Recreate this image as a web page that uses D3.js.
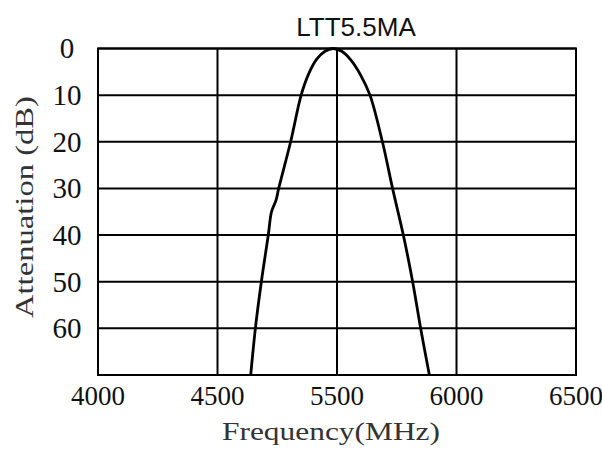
<!DOCTYPE html>
<html>
<head>
<meta charset="utf-8">
<script src="https://cdn.jsdelivr.net/npm/d3@7"></script>
<style>
  html, body { margin: 0; padding: 0; background: #fff; }
  svg { display: block; }
</style>
</head>
<body>
<div id="chart"></div>
<script>
// ---- data ----
const title = "LTT5.5MA";
const xTickLabels = ["4000", "4500", "5500", "6000", "6500"];   // equally spaced grid columns
const yTicks = [0, 10, 20, 30, 40, 50, 60];
const yMax = 70;
const xTitle = "Frequency(MHz)";
const yTitle = "Attenuation (dB)";
// curve: x position in grid-column units (0 = "4000", 4 = "6500"), attenuation in dB
const curveX  = [1.278, 1.317, 1.367, 1.425, 1.452, 1.49, 1.512, 1.612, 1.70, 1.762, 1.83, 1.90, 1.966,
                 2.04, 2.12, 2.2, 2.276, 2.38, 2.465, 2.555, 2.633, 2.70, 2.773];
const curveDb = [70, 60, 50, 40, 35, 32.5, 30, 20, 10, 5.5, 2.3, 0.6, 0,
                 0.6, 2.6, 5.8, 10, 20, 30, 40, 50, 60, 70];

// ---- layout ----
const W = 602, H = 449;
const plot = { left: 98, right: 576, top: 48.5, bottom: 375 };

const svg = d3.select("#chart").append("svg").attr("width", W).attr("height", H);

const x = d3.scaleLinear().domain([0, xTickLabels.length - 1]).range([plot.left, plot.right]);
const y = d3.scaleLinear().domain([0, yMax]).range([plot.top, plot.bottom]);

// horizontal grid lines
svg.append("g").selectAll("line").data(yTicks).join("line")
  .attr("x1", plot.left).attr("x2", plot.right)
  .attr("y1", d => y(d)).attr("y2", d => y(d))
  .attr("stroke", "#000").attr("stroke-width", 2);

// vertical grid lines
svg.append("g").selectAll("line").data(d3.range(xTickLabels.length)).join("line")
  .attr("x1", d => x(d)).attr("x2", d => x(d))
  .attr("y1", plot.top).attr("y2", plot.bottom)
  .attr("stroke", "#000").attr("stroke-width", 2);

// border
svg.append("rect")
  .attr("x", plot.left).attr("y", plot.top)
  .attr("width", plot.right - plot.left).attr("height", plot.bottom - plot.top)
  .attr("fill", "none").attr("stroke", "#000").attr("stroke-width", 2);

const serif = "'Liberation Serif', 'Times New Roman', serif";

// y tick labels
svg.append("g").selectAll("text").data(yTicks).join("text")
  .attr("x", 67).attr("y", d => y(d))
  .attr("dy", "0.34em")
  .attr("text-anchor", "middle")
  .attr("font-family", serif)
  .attr("font-size", 29)
  .attr("fill", "#111")
  .text(d => d);

// x tick labels
svg.append("g").selectAll("text").data(xTickLabels).join("text")
  .attr("x", (d, i) => x(i)).attr("y", 405)
  .attr("text-anchor", "middle")
  .attr("font-family", serif)
  .attr("font-size", 27)
  .attr("fill", "#111")
  .text(d => d);

// curve
const pts = curveX.map((v, i) => [v, curveDb[i]]);
svg.append("path")
  .datum(pts)
  .attr("d", d3.line().x(d => x(d[0])).y(d => y(d[1])).curve(d3.curveCatmullRom.alpha(0.5)))
  .attr("fill", "none").attr("stroke", "#000").attr("stroke-width", 2.8)
  .attr("stroke-linejoin", "round");

// title
svg.append("text")
  .attr("x", 356).attr("y", 36)
  .attr("text-anchor", "middle")
  .attr("font-family", "'Liberation Sans', Arial, sans-serif")
  .attr("font-size", 26)
  .attr("fill", "#111")
  .text(title);

// x axis title
svg.append("text")
  .attr("x", 331).attr("y", 440)
  .attr("text-anchor", "middle")
  .attr("font-family", serif)
  .attr("font-size", 26)
  .attr("textLength", 218).attr("lengthAdjust", "spacingAndGlyphs")
  .attr("fill", "#333")
  .text(xTitle);

// y axis title
svg.append("text")
  .attr("transform", "translate(33,207) rotate(-90)")
  .attr("text-anchor", "middle")
  .attr("font-family", serif)
  .attr("font-size", 26)
  .attr("textLength", 222).attr("lengthAdjust", "spacingAndGlyphs")
  .attr("fill", "#333")
  .text(yTitle);
</script>
</body>
</html>
